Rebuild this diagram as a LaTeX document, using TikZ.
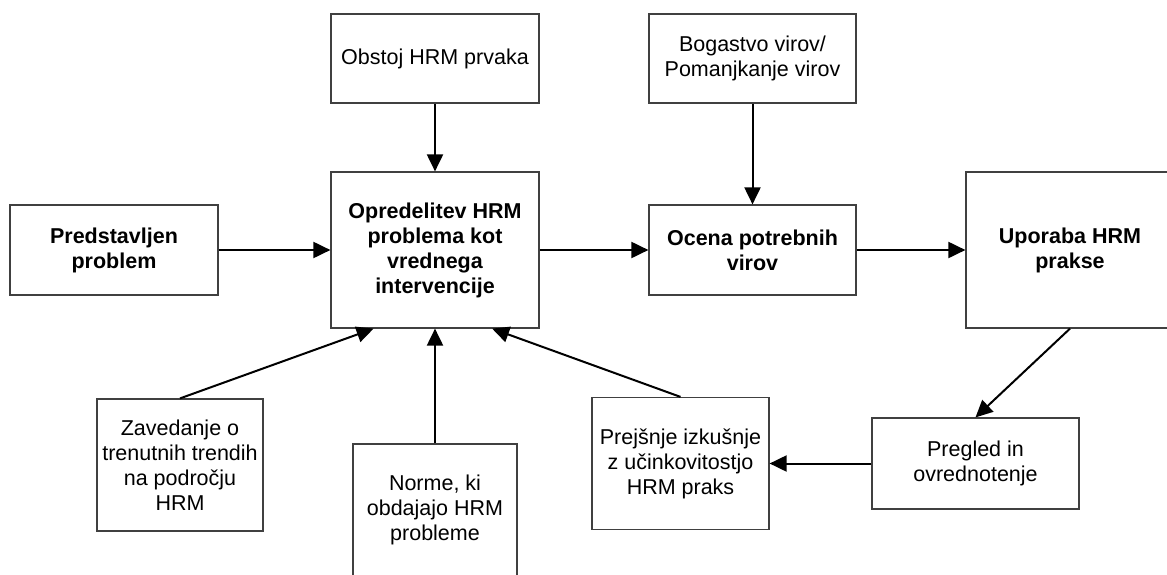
\documentclass[tikz,border=0pt]{standalone}
\usepackage{fontspec}
\setmainfont{Liberation Sans}
\usetikzlibrary{positioning,arrows.meta}

\tikzset{
  box/.style={draw=black!75, line width=1.2pt, align=center, inner sep=2pt,
    font=\fontsize{21.5}{25}\selectfont},
  boldbox/.style={box, font=\fontsize{21.5}{25}\selectfont\bfseries},
  boxsize/.style 2 args={minimum width=#1, minimum height=#2},
  flow/.style={-{Triangle[length=17pt,width=16pt]}, line width=2pt}
}

\begin{document}
\begin{tikzpicture}[on grid]
  \useasboundingbox (0pt,0pt) rectangle (1167pt,-575pt);
  % main row
  \node[boldbox, boxsize={208pt}{156pt}] (opred) at (435pt,-250pt)
    {Opredelitev HRM\\problema kot\\vrednega\\intervencije};
  \node[boldbox, boxsize={208pt}{90pt}] (predst) [left=321pt of opred]
    {Predstavljen\\problem};
  \node[boldbox, boxsize={207pt}{90pt}] (ocena) [right=317.5pt of opred]
    {Ocena potrebnih\\virov};
  \node[boldbox, boxsize={208pt}{156pt}] (uporaba) [right=317.5pt of ocena]
    {Uporaba HRM\\prakse};
  % top row
  \node[box, boxsize={208pt}{89pt}] (obstoj) [above=191.5pt of opred]
    {Obstoj HRM prvaka};
  \node[box, boxsize={207pt}{89pt}] (bogastvo) [above=191.5pt of ocena]
    {Bogastvo virov/\\Pomanjkanje virov};
  % bottom row
  \node[box, boxsize={166pt}{132pt}] (zaved) [below left=215pt and 255pt of opred]
    {Zavedanje o\\trenutnih trendih\\na področju\\HRM};
  \node[box, boxsize={164pt}{132pt}] (norme) [below=260pt of opred]
    {Norme, ki\\obdajajo HRM\\probleme};
  \node[box, boxsize={207pt}{91pt}] (pregled) [below left=213.5pt and 94.5pt of uporaba]
    {Pregled in\\ovrednotenje};
  \node[box, boxsize={177pt}{132pt}] (prejs) [left=295pt of pregled]
    {Prejšnje izkušnje\\z učinkovitostjo\\HRM praks};
  % connectors
  \draw[flow] (predst) -- (opred);
  \draw[flow] (opred) -- (ocena);
  \draw[flow] (ocena) -- (uporaba);
  \draw[flow] (obstoj) -- (opred);
  \draw[flow] (bogastvo) -- (ocena);
  \draw[flow] (uporaba.south) -- (pregled.north);
  \draw[flow] (pregled.west) -- (pregled.west -| prejs.east);
  \draw[flow] (zaved.north) -- (opred.232);
  \draw[flow] (norme) -- (opred);
  \draw[flow] (prejs.north) -- (opred.306);
\end{tikzpicture}
\end{document}
